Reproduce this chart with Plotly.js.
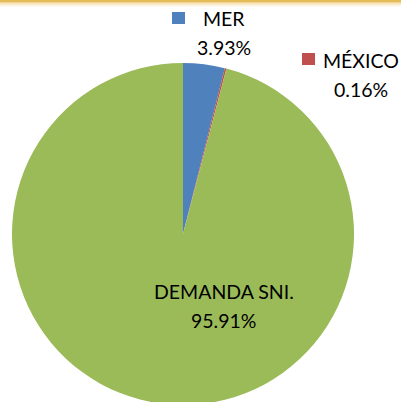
<!DOCTYPE html>
<html>
<head>
<meta charset="utf-8">
<script src="https://cdn.plot.ly/plotly-3.0.1.min.js"></script>
<style>
html,body{margin:0;padding:0;overflow:hidden;background:#fff;}
#chart{width:401px;height:406px;}
</style>
</head>
<body>
<div id="chart"></div>
<script>
const labels = ["MER", "MÉXICO", "DEMANDA SNI."];
const values = [3.93, 0.16, 95.91];
const colors = ["#4F81BD", "#C0504D", "#9BBB59"];

const W = 401, H = 406;
const px = x => x / W;
const py = y => 1 - y / H;
const FONT = "Lato, 'Open Sans', sans-serif";
const fsz = 19.5;

// label positions (pixel centres) for each slice
const labelPos = [
  {key: [172, 12, 185, 24], tx: 224, ty: 18},
  {key: [302, 53, 315, 65], tx: 361, ty: 60},
  {key: null, tx: 224, ty: 291}
];

const annotations = [];
const shapes = [];
labels.forEach((lab, i) => {
  const p = labelPos[i];
  annotations.push({
    xref: "paper", yref: "paper", x: px(p.tx), y: py(p.ty),
    xanchor: "center", yanchor: "middle", showarrow: false,
    text: lab, font: {family: FONT, size: fsz, color: "#000"}
  });
  annotations.push({
    xref: "paper", yref: "paper", x: px(p.tx), y: py(p.ty + 29),
    xanchor: "center", yanchor: "middle", showarrow: false,
    text: values[i].toFixed(2) + "%", font: {family: FONT, size: fsz, color: "#000"}
  });
  if (p.key) {
    shapes.push({
      type: "rect", xref: "paper", yref: "paper",
      x0: px(p.key[0]), y0: py(p.key[1]), x1: px(p.key[2]), y1: py(p.key[3]),
      fillcolor: colors[i], line: {width: 0}
    });
  }
});
// top gold border band
[["#E4BC58", 0, 2], ["#F0D591", 2, 3], ["#F8E9C4", 3, 5], ["#FDF7EA", 5, 7]].forEach(b => {
  shapes.push({type: "rect", xref: "paper", yref: "paper",
    x0: 0, x1: 1, y0: py(b[2]), y1: py(b[1]), fillcolor: b[0], line: {width: 0}, layer: "below"});
});

const data = [{
  type: "pie",
  labels: labels,
  values: values,
  marker: {colors: colors, line: {width: 0}},
  sort: false,
  direction: "clockwise",
  rotation: 0,
  textinfo: "none",
  hoverinfo: "none",
  domain: {x: [px(12), px(354)], y: [0, py(62)]}
}];

const layout = {
  width: W, height: H,
  margin: {l: 0, r: 0, t: 0, b: 0},
  showlegend: false,
  paper_bgcolor: "#fff",
  annotations: annotations,
  shapes: shapes
};

Plotly.newPlot("chart", data, layout, {displayModeBar: false, staticPlot: true});
</script>
</body>
</html>
